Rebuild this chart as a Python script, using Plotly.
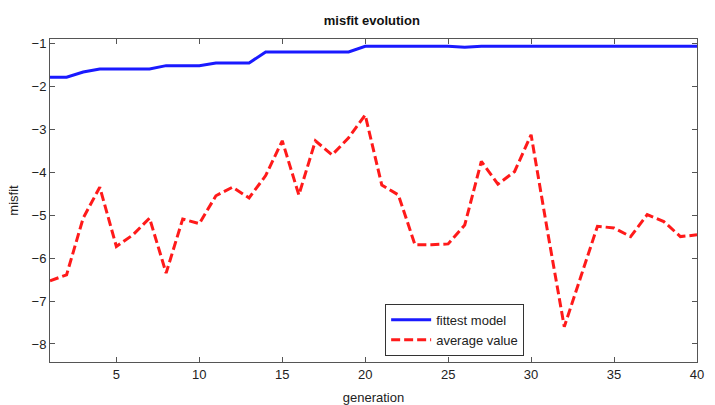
import plotly.graph_objects as go

generation = list(range(1, 41))
fittest_model = [-1.79, -1.79, -1.67, -1.60, -1.60, -1.60, -1.60, -1.52, -1.52, -1.52,
                 -1.46, -1.46, -1.46, -1.20, -1.20, -1.20, -1.20, -1.20, -1.20, -1.07,
                 -1.07, -1.07, -1.07, -1.07, -1.07, -1.09, -1.07, -1.07, -1.07, -1.07,
                 -1.07, -1.07, -1.07, -1.07, -1.07, -1.07, -1.07, -1.07, -1.07, -1.07]
average_value = [-6.53, -6.39, -5.07, -4.35, -5.73, -5.46, -5.07, -6.35, -5.09, -5.20,
                 -4.55, -4.35, -4.60, -4.08, -3.27, -4.53, -3.27, -3.60, -3.20, -2.67,
                 -4.30, -4.53, -5.69, -5.69, -5.67, -5.23, -3.75, -4.28, -3.99, -3.13,
                 -5.40, -7.60, -6.43, -5.26, -5.30, -5.50, -4.99, -5.15, -5.50, -5.46]
x_ticks = [5, 10, 15, 20, 25, 30, 35, 40]
y_ticks = [-1, -2, -3, -4, -5, -6, -7, -8]

FONT = "Liberation Sans, Arial"

fig = go.Figure()
fig.add_trace(go.Scatter(x=generation, y=fittest_model, mode="lines", name="fittest model",
                         line=dict(color="#1a1aff", width=3)))
fig.add_trace(go.Scatter(x=generation, y=average_value, mode="lines", name="average value",
                         line=dict(color="#ff1a1a", width=3, dash="9px,4px")))

axis_common = dict(showgrid=False, zeroline=False, showline=True, linecolor="#555555",
                   linewidth=1, mirror="ticks", ticks="inside", ticklen=5, tickcolor="#555555",
                   automargin=False,
                   tickfont=dict(family=FONT, size=13, color="#222222"))

fig.update_layout(
    width=715, height=405,
    margin=dict(l=50, r=18, t=39, b=43),
    paper_bgcolor="white", plot_bgcolor="white",
    title=dict(text="<b>misfit evolution</b>", x=0.52, xanchor="center", y=0.95, yanchor="middle",
               font=dict(family=FONT, size=13, color="#111111")),
    xaxis=dict(range=[1, 40], tickvals=x_ticks,
               title=dict(text="generation", standoff=14,
                          font=dict(family=FONT, size=13, color="#222222")),
               **axis_common),
    yaxis=dict(range=[-8.42, -0.9], tickvals=y_ticks,
               title=dict(text="misfit", standoff=10,
                          font=dict(family=FONT, size=13, color="#222222")),
               **axis_common),
    legend=dict(x=0.518, y=0.18, xanchor="left", yanchor="top",
                bgcolor="white", bordercolor="#333333", borderwidth=1,
                font=dict(family=FONT, size=13, color="#222222"),
                tracegroupgap=0, itemwidth=40),
    showlegend=True,
)

fig.write_html("out.html")
